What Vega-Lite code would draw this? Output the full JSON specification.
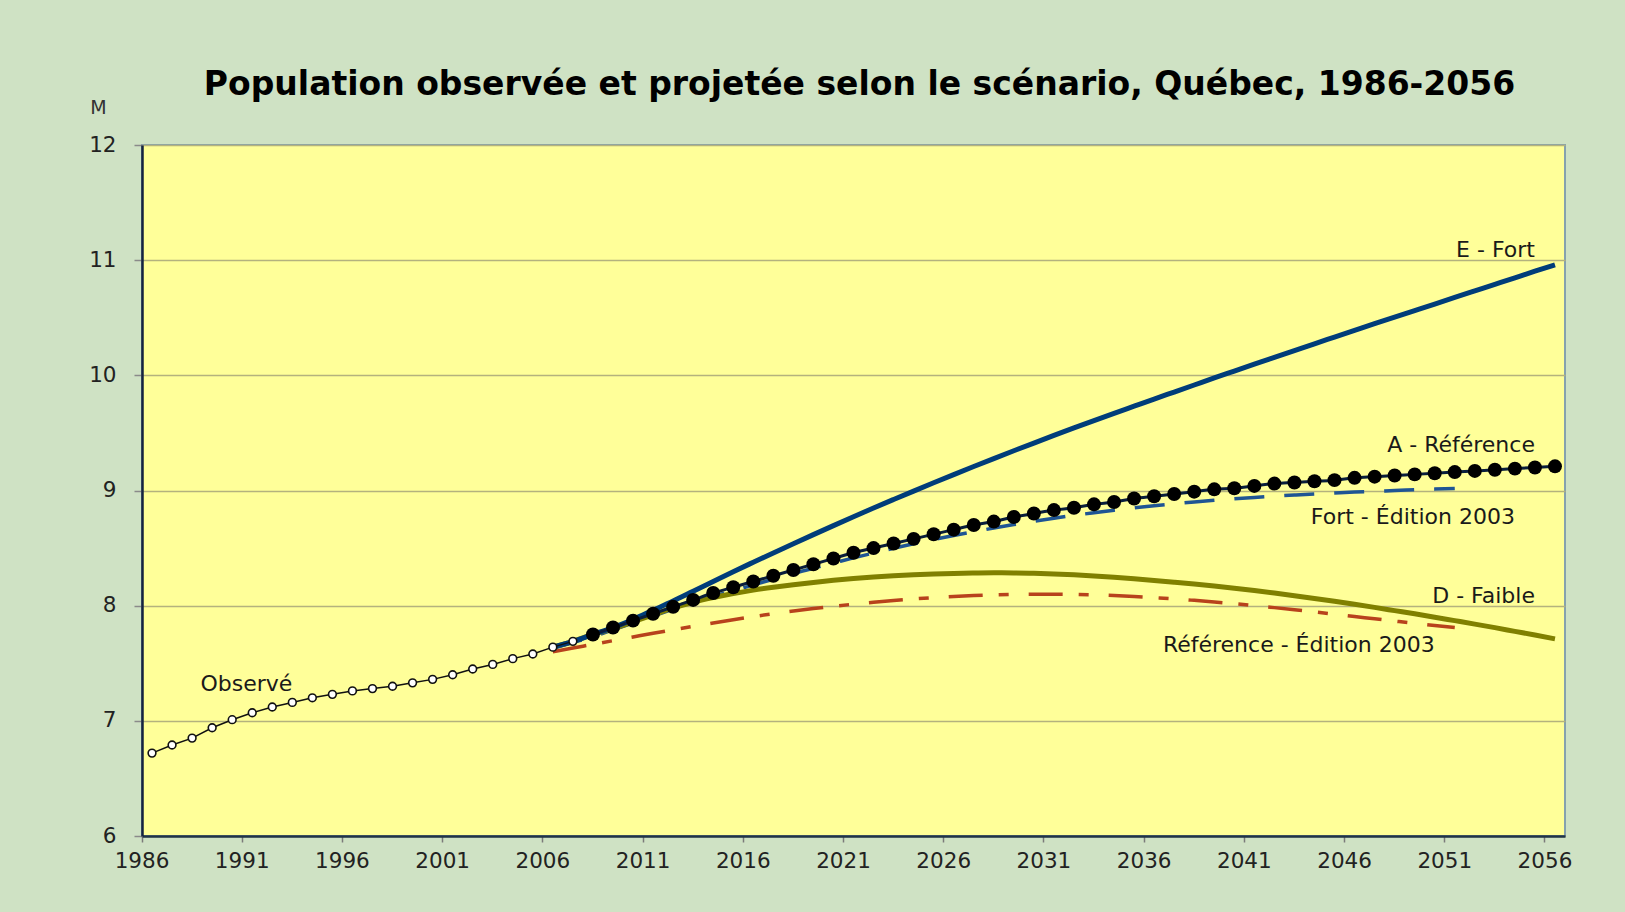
{
  "$schema": "https://vega.github.io/schema/vega-lite/v6.json",
  "width": 1423,
  "height": 691,
  "autosize": {"type": "none"},
  "padding": {"left": 142, "top": 145, "right": 60, "bottom": 76},
  "background": "#CFE2C4",
  "config": {
    "view": {"fill": "#FFFF99", "stroke": "#86A2AE", "strokeWidth": 2},
    "font": "DejaVu Sans"
  },
  "title": {
    "text": "Population observée et projetée selon le scénario, Québec, 1986-2056",
    "font": "DejaVu Sans",
    "fontSize": 33,
    "fontWeight": "bold",
    "color": "#000000",
    "anchor": "middle",
    "frame": "group",
    "baseline": "alphabetic",
    "offset": 40,
    "dx": 6,
    "dy": 70
  },
  "datasets": {
    "obs": [
      {"year": 1986, "v": 6.72}, {"year": 1987, "v": 6.79}, {"year": 1988, "v": 6.85}, {"year": 1989, "v": 6.94},
      {"year": 1990, "v": 7.01}, {"year": 1991, "v": 7.07}, {"year": 1992, "v": 7.12}, {"year": 1993, "v": 7.16},
      {"year": 1994, "v": 7.2}, {"year": 1995, "v": 7.23}, {"year": 1996, "v": 7.26}, {"year": 1997, "v": 7.28},
      {"year": 1998, "v": 7.3}, {"year": 1999, "v": 7.33}, {"year": 2000, "v": 7.36}, {"year": 2001, "v": 7.4},
      {"year": 2002, "v": 7.45}, {"year": 2003, "v": 7.49}, {"year": 2004, "v": 7.54}, {"year": 2005, "v": 7.58},
      {"year": 2006, "v": 7.64}, {"year": 2007, "v": 7.69}
    ],
    "A": [
      {"year": 2008, "v": 7.75}, {"year": 2009, "v": 7.81}, {"year": 2010, "v": 7.87}, {"year": 2011, "v": 7.93},
      {"year": 2012, "v": 7.99}, {"year": 2013, "v": 8.05}, {"year": 2014, "v": 8.11}, {"year": 2015, "v": 8.16},
      {"year": 2016, "v": 8.21}, {"year": 2017, "v": 8.26}, {"year": 2018, "v": 8.31}, {"year": 2019, "v": 8.36},
      {"year": 2020, "v": 8.41}, {"year": 2021, "v": 8.46}, {"year": 2022, "v": 8.5}, {"year": 2023, "v": 8.54},
      {"year": 2024, "v": 8.58}, {"year": 2025, "v": 8.62}, {"year": 2026, "v": 8.66}, {"year": 2027, "v": 8.7},
      {"year": 2028, "v": 8.73}, {"year": 2029, "v": 8.77}, {"year": 2030, "v": 8.8}, {"year": 2031, "v": 8.83},
      {"year": 2032, "v": 8.85}, {"year": 2033, "v": 8.88}, {"year": 2034, "v": 8.9}, {"year": 2035, "v": 8.93},
      {"year": 2036, "v": 8.95}, {"year": 2037, "v": 8.97}, {"year": 2038, "v": 8.99}, {"year": 2039, "v": 9.01},
      {"year": 2040, "v": 9.02}, {"year": 2041, "v": 9.04}, {"year": 2042, "v": 9.06}, {"year": 2043, "v": 9.07},
      {"year": 2044, "v": 9.08}, {"year": 2045, "v": 9.09}, {"year": 2046, "v": 9.11}, {"year": 2047, "v": 9.12},
      {"year": 2048, "v": 9.13}, {"year": 2049, "v": 9.14}, {"year": 2050, "v": 9.15}, {"year": 2051, "v": 9.16},
      {"year": 2052, "v": 9.17}, {"year": 2053, "v": 9.18}, {"year": 2054, "v": 9.19}, {"year": 2055, "v": 9.2},
      {"year": 2056, "v": 9.21}
    ],
    "E": [
      {"year": 2006, "v": 7.64}, {"year": 2007, "v": 7.69}, {"year": 2008, "v": 7.75}, {"year": 2009, "v": 7.81},
      {"year": 2010, "v": 7.88}, {"year": 2011, "v": 7.96}, {"year": 2012, "v": 8.04}, {"year": 2013, "v": 8.125},
      {"year": 2014, "v": 8.21}, {"year": 2015, "v": 8.295}, {"year": 2016, "v": 8.377}, {"year": 2017, "v": 8.458},
      {"year": 2018, "v": 8.538}, {"year": 2019, "v": 8.617}, {"year": 2020, "v": 8.695}, {"year": 2021, "v": 8.772},
      {"year": 2022, "v": 8.848}, {"year": 2023, "v": 8.922}, {"year": 2024, "v": 8.995}, {"year": 2025, "v": 9.067},
      {"year": 2026, "v": 9.138}, {"year": 2027, "v": 9.208}, {"year": 2028, "v": 9.277}, {"year": 2029, "v": 9.345},
      {"year": 2030, "v": 9.412}, {"year": 2031, "v": 9.478}, {"year": 2032, "v": 9.543}, {"year": 2033, "v": 9.607},
      {"year": 2034, "v": 9.67}, {"year": 2035, "v": 9.732}, {"year": 2036, "v": 9.794}, {"year": 2037, "v": 9.855},
      {"year": 2038, "v": 9.916}, {"year": 2039, "v": 9.977}, {"year": 2040, "v": 10.037}, {"year": 2041, "v": 10.097},
      {"year": 2042, "v": 10.156}, {"year": 2043, "v": 10.215}, {"year": 2044, "v": 10.274}, {"year": 2045, "v": 10.332},
      {"year": 2046, "v": 10.39}, {"year": 2047, "v": 10.448}, {"year": 2048, "v": 10.505}, {"year": 2049, "v": 10.562},
      {"year": 2050, "v": 10.619}, {"year": 2051, "v": 10.676}, {"year": 2052, "v": 10.733}, {"year": 2053, "v": 10.79},
      {"year": 2054, "v": 10.847}, {"year": 2055, "v": 10.904}, {"year": 2056, "v": 10.96}
    ],
    "D": [
      {"year": 2006, "v": 7.64}, {"year": 2007, "v": 7.69}, {"year": 2008, "v": 7.75}, {"year": 2009, "v": 7.8},
      {"year": 2010, "v": 7.86}, {"year": 2011, "v": 7.92}, {"year": 2012, "v": 7.98}, {"year": 2013, "v": 8.03},
      {"year": 2014, "v": 8.07}, {"year": 2015, "v": 8.105}, {"year": 2016, "v": 8.135}, {"year": 2017, "v": 8.16},
      {"year": 2018, "v": 8.182}, {"year": 2019, "v": 8.202}, {"year": 2020, "v": 8.22}, {"year": 2021, "v": 8.235},
      {"year": 2022, "v": 8.248}, {"year": 2023, "v": 8.259}, {"year": 2024, "v": 8.268}, {"year": 2025, "v": 8.275},
      {"year": 2026, "v": 8.28}, {"year": 2027, "v": 8.283}, {"year": 2028, "v": 8.285}, {"year": 2029, "v": 8.284},
      {"year": 2030, "v": 8.281}, {"year": 2031, "v": 8.276}, {"year": 2032, "v": 8.268}, {"year": 2033, "v": 8.258},
      {"year": 2034, "v": 8.246}, {"year": 2035, "v": 8.233}, {"year": 2036, "v": 8.219}, {"year": 2037, "v": 8.204},
      {"year": 2038, "v": 8.188}, {"year": 2039, "v": 8.17}, {"year": 2040, "v": 8.151}, {"year": 2041, "v": 8.131},
      {"year": 2042, "v": 8.11}, {"year": 2043, "v": 8.087}, {"year": 2044, "v": 8.063}, {"year": 2045, "v": 8.038},
      {"year": 2046, "v": 8.012}, {"year": 2047, "v": 7.985}, {"year": 2048, "v": 7.957}, {"year": 2049, "v": 7.929},
      {"year": 2050, "v": 7.9}, {"year": 2051, "v": 7.87}, {"year": 2052, "v": 7.84}, {"year": 2053, "v": 7.809},
      {"year": 2054, "v": 7.777}, {"year": 2055, "v": 7.745}, {"year": 2056, "v": 7.712}
    ],
    "f03": [
      {"year": 2006, "v": 7.63}, {"year": 2007, "v": 7.68}, {"year": 2008, "v": 7.73}, {"year": 2009, "v": 7.79},
      {"year": 2010, "v": 7.85}, {"year": 2011, "v": 7.91}, {"year": 2012, "v": 7.97}, {"year": 2013, "v": 8.03},
      {"year": 2014, "v": 8.08}, {"year": 2015, "v": 8.13}, {"year": 2016, "v": 8.18}, {"year": 2017, "v": 8.23},
      {"year": 2018, "v": 8.28}, {"year": 2019, "v": 8.325}, {"year": 2020, "v": 8.37}, {"year": 2021, "v": 8.415},
      {"year": 2022, "v": 8.457}, {"year": 2023, "v": 8.498}, {"year": 2024, "v": 8.537}, {"year": 2025, "v": 8.574},
      {"year": 2026, "v": 8.609}, {"year": 2027, "v": 8.642}, {"year": 2028, "v": 8.674}, {"year": 2029, "v": 8.704},
      {"year": 2030, "v": 8.732}, {"year": 2031, "v": 8.759}, {"year": 2032, "v": 8.784}, {"year": 2033, "v": 8.807},
      {"year": 2034, "v": 8.829}, {"year": 2035, "v": 8.849}, {"year": 2036, "v": 8.868}, {"year": 2037, "v": 8.885},
      {"year": 2038, "v": 8.901}, {"year": 2039, "v": 8.915}, {"year": 2040, "v": 8.928}, {"year": 2041, "v": 8.94},
      {"year": 2042, "v": 8.951}, {"year": 2043, "v": 8.961}, {"year": 2044, "v": 8.97}, {"year": 2045, "v": 8.978},
      {"year": 2046, "v": 8.986}, {"year": 2047, "v": 8.993}, {"year": 2048, "v": 9.0}, {"year": 2049, "v": 9.006},
      {"year": 2050, "v": 9.012}, {"year": 2051, "v": 9.017}
    ],
    "r03": [
      {"year": 2006, "v": 7.6}, {"year": 2007, "v": 7.632}, {"year": 2008, "v": 7.664}, {"year": 2009, "v": 7.696},
      {"year": 2010, "v": 7.728}, {"year": 2011, "v": 7.76}, {"year": 2012, "v": 7.791}, {"year": 2013, "v": 7.821},
      {"year": 2014, "v": 7.85}, {"year": 2015, "v": 7.878}, {"year": 2016, "v": 7.905}, {"year": 2017, "v": 7.93},
      {"year": 2018, "v": 7.953}, {"year": 2019, "v": 7.975}, {"year": 2020, "v": 7.995}, {"year": 2021, "v": 8.013},
      {"year": 2022, "v": 8.03}, {"year": 2023, "v": 8.045}, {"year": 2024, "v": 8.058}, {"year": 2025, "v": 8.07},
      {"year": 2026, "v": 8.08}, {"year": 2027, "v": 8.088}, {"year": 2028, "v": 8.094}, {"year": 2029, "v": 8.098},
      {"year": 2030, "v": 8.1}, {"year": 2031, "v": 8.1}, {"year": 2032, "v": 8.098}, {"year": 2033, "v": 8.094},
      {"year": 2034, "v": 8.088}, {"year": 2035, "v": 8.08}, {"year": 2036, "v": 8.07}, {"year": 2037, "v": 8.059},
      {"year": 2038, "v": 8.046}, {"year": 2039, "v": 8.032}, {"year": 2040, "v": 8.017}, {"year": 2041, "v": 8.0},
      {"year": 2042, "v": 7.983}, {"year": 2043, "v": 7.965}, {"year": 2044, "v": 7.946}, {"year": 2045, "v": 7.926},
      {"year": 2046, "v": 7.906}, {"year": 2047, "v": 7.886}, {"year": 2048, "v": 7.866}, {"year": 2049, "v": 7.846},
      {"year": 2050, "v": 7.827}, {"year": 2051, "v": 7.81}
    ],
    "lab": [
      {"year": 2055, "v": 11.09, "t": "E - Fort"},
      {"year": 2055, "v": 9.396, "t": "A - Référence"},
      {"year": 2054, "v": 8.771, "t": "Fort - Édition 2003"},
      {"year": 2055, "v": 8.085, "t": "D - Faible"},
      {"year": 2050, "v": 7.66, "t": "Référence - Édition 2003"},
      {"year": 1993, "v": 7.321, "t": "Observé"}
    ]
  },
  "encoding": {
    "x": {
      "field": "year",
      "type": "ordinal",
      "bandPosition": 0.5,
      "scale": {
        "type": "band",
        "paddingInner": 0,
        "paddingOuter": 0,
        "domain": [1986, 1987, 1988, 1989, 1990, 1991, 1992, 1993, 1994, 1995, 1996, 1997, 1998, 1999, 2000, 2001, 2002, 2003, 2004, 2005, 2006, 2007, 2008, 2009, 2010, 2011, 2012, 2013, 2014, 2015, 2016, 2017, 2018, 2019, 2020, 2021, 2022, 2023, 2024, 2025, 2026, 2027, 2028, 2029, 2030, 2031, 2032, 2033, 2034, 2035, 2036, 2037, 2038, 2039, 2040, 2041, 2042, 2043, 2044, 2045, 2046, 2047, 2048, 2049, 2050, 2051, 2052, 2053, 2054, 2055, 2056]
      },
      "axis": {
        "values": [1986, 1991, 1996, 2001, 2006, 2011, 2016, 2021, 2026, 2031, 2036, 2041, 2046, 2051, 2056],
        "bandPosition": 0,
        "title": null,
        "labelAngle": 0,
        "labelOffset": -10,
        "labelFont": "DejaVu Sans",
        "labelFontSize": 21.5,
        "labelColor": "#222222",
        "labelPadding": 8,
        "tickSize": 6,
        "tickColor": "#7A7A7A",
        "tickWidth": 1.5,
        "domainColor": "#1F3347",
        "domainWidth": 2.5,
        "grid": false
      }
    },
    "y": {
      "field": "v",
      "type": "quantitative",
      "scale": {"domain": [6, 12], "nice": false, "zero": false},
      "axis": {
        "values": [6, 7, 8, 9, 10, 11, 12],
        "title": "M",
        "titleAngle": 0,
        "titleX": -44,
        "titleY": -38,
        "titleAlign": "center",
        "titleBaseline": "middle",
        "titleFont": "DejaVu Sans",
        "titleFontSize": 19,
        "titleFontWeight": "normal",
        "titleColor": "#333333",
        "labelFont": "DejaVu Sans",
        "labelFontSize": 21.5,
        "labelColor": "#222222",
        "labelPadding": 18,
        "tickSize": 8,
        "tickColor": "#8A8A8A",
        "tickWidth": 1.5,
        "domainColor": "#15233F",
        "domainWidth": 2.5,
        "gridColor": "#B4B27E",
        "gridWidth": 1.5
      }
    }
  },
  "layer": [
    {"data": {"name": "r03"}, "mark": {"type": "line", "color": "#B8421C", "strokeWidth": 3.5, "strokeDash": [34, 16, 10, 20], "interpolate": "monotone"}},
    {"data": {"name": "f03"}, "mark": {"type": "line", "color": "#1F5594", "strokeWidth": 3.5, "strokeDash": [30, 20], "interpolate": "monotone"}},
    {"data": {"name": "D"}, "mark": {"type": "line", "color": "#808000", "strokeWidth": 5, "interpolate": "monotone"}},
    {"data": {"name": "E"}, "mark": {"type": "line", "color": "#003D7A", "strokeWidth": 5, "interpolate": "monotone"}},
    {"data": {"name": "A"}, "mark": {"type": "line", "color": "#0A1E3C", "strokeWidth": 3, "interpolate": "monotone"}},
    {"data": {"name": "A"}, "mark": {"type": "point", "shape": "circle", "filled": true, "color": "#000000", "size": 195, "opacity": 1}},
    {"data": {"name": "obs"}, "mark": {"type": "line", "color": "#111111", "strokeWidth": 1.5}},
    {"data": {"name": "obs"}, "mark": {"type": "point", "shape": "circle", "fill": "#FFFFFF", "stroke": "#111111", "strokeWidth": 1.6, "size": 60, "opacity": 1}},
    {
      "data": {"name": "lab"},
      "mark": {"type": "text", "font": "DejaVu Sans", "fontSize": 22, "color": "#1A1A1A", "align": "right", "baseline": "middle"},
      "encoding": {"text": {"field": "t", "type": "nominal"}}
    }
  ]
}
